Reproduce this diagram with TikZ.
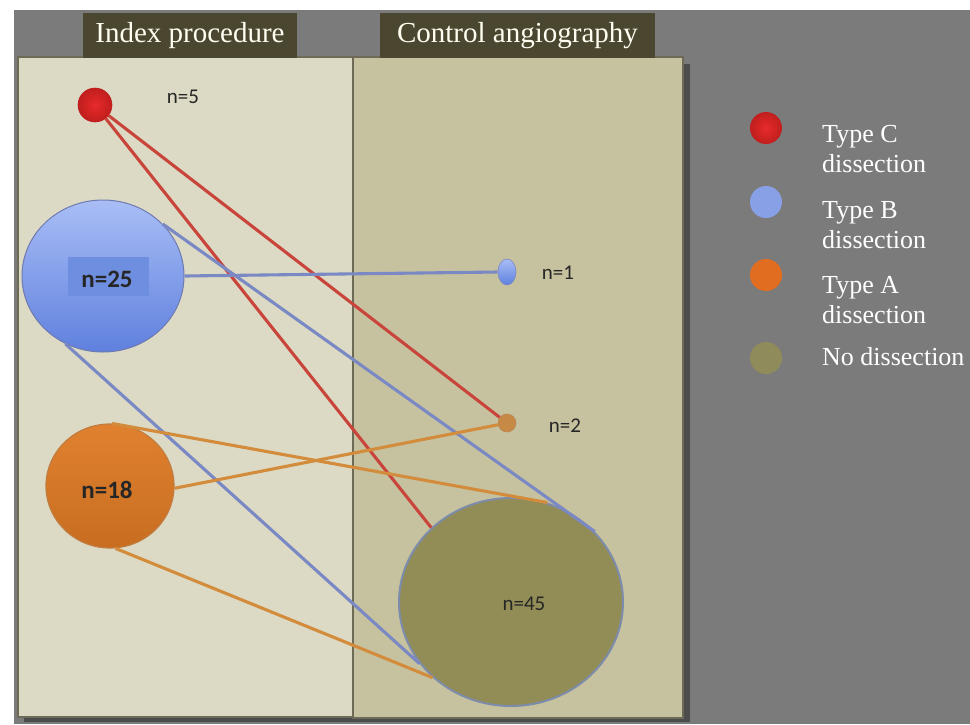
\documentclass[tikz,border=0pt]{standalone}
\usepackage{fontspec}
\setmainfont{Liberation Serif}
\newfontfamily\labfont{Carlito}
\usetikzlibrary{shapes.geometric}
\definecolor{bggray}{HTML}{7B7B7B}
\definecolor{shadowc}{HTML}{4C4C4C}
\definecolor{leftp}{HTML}{DCDAC5}
\definecolor{rightp}{HTML}{C6C29F}
\definecolor{panelb}{HTML}{6D6B55}
\definecolor{hdrc}{HTML}{4A4630}
\definecolor{redl}{HTML}{C9453C}
\definecolor{bluel}{HTML}{7A88C4}
\definecolor{orangel}{HTML}{D38B3C}
\definecolor{redin}{HTML}{E82A2A}
\definecolor{redout}{HTML}{C01E1E}
\definecolor{bluetop}{HTML}{A9BEF6}
\definecolor{bluebot}{HTML}{5F80DE}
\definecolor{orangec}{HTML}{DE7A24}
\definecolor{olivec}{HTML}{928C57}
\definecolor{oliveb}{HTML}{7D8CAA}
\definecolor{lblbox}{HTML}{6E8EDF}
\begin{document}
\begin{tikzpicture}[x=1pt,y=-1pt,
  hdr/.style={fill=hdrc, text=white!94!yellow, inner sep=0pt, font=\fontsize{29}{32}\selectfont},
  dot/.style={ellipse, inner sep=0pt},
  conn/.style={line width=3.1pt},
  nlab/.style={font=\labfont\fontsize{21}{24}\selectfont, text=black!85, inner sep=0pt},
  blab/.style={font=\labfont\bfseries\fontsize{25}{28}\selectfont, text=black!85, inner sep=0pt},
  legtext/.style={anchor=west, align=left, text=white!95, inner sep=0pt, font=\fontsize{26}{30}\selectfont},
  legdot/.style={circle, minimum size=32pt, inner sep=0pt}
]
\useasboundingbox (0,0) rectangle (970,724);
\fill[white] (0,0) rectangle (970,724);
\fill[bggray] (14,10) rectangle (970,724);
% panel shadow
\fill[shadowc] (24,64) rectangle (690,722);
% panels
\fill[leftp] (18,57) rectangle (353,717);
\fill[rightp] (353,57) rectangle (683,718);
\draw[panelb, line width=1.4pt] (18,57) rectangle (353,717);
\draw[panelb, line width=1.4pt] (353,57) rectangle (683,718);
% headers
\node[hdr, minimum width=214pt, minimum height=45pt] (h1) at (190,35.5) {Index procedure};
\node[hdr, minimum width=275pt, minimum height=45pt] (h2) at (517.5,35.5) {Control angiography};
% circles
\node[dot, minimum width=34pt, minimum height=34pt, inner color=redin, outer color=redout, draw=redout, line width=0.6pt] (C) at (95,105) {};
\node[dot, minimum width=162pt, minimum height=152pt, top color=bluetop, bottom color=bluebot, draw=bluel!90!black, line width=1pt] (B) at (103,276) {};
\node[dot, minimum width=128pt, minimum height=124pt, top color=orangec!95!white, bottom color=orangec!90!black, draw=orangec!70!gray, line width=1.2pt] (A) at (110,486) {};
\node[dot, minimum width=18pt, minimum height=26pt, top color=bluetop, bottom color=bluebot, draw=bluel, line width=0.6pt] (n1) at (507,272) {};
\node[dot, minimum width=18pt, minimum height=18pt, fill=orangel!85!gray, draw=orangel!70!gray, line width=0.6pt] (n2) at (507,423) {};
\node[dot, minimum width=224pt, minimum height=208pt, fill=olivec, draw=oliveb, line width=2pt] (O) at (511,602) {};
% connectors
\draw[conn, redl] (C) -- (n2);
\draw[conn, redl] (C) -- (O.137);
\draw[conn, bluel] (B.east) -- (n1.west);
\draw[conn, bluel] (B.41) -- (O.40);
\draw[conn, bluel] (B.241) -- (O.214);
\draw[conn, orangel] (A.88) -- (O.70);
\draw[conn, orangel] (A.358) -- (n2);
\draw[conn, orangel] (A.275) -- (O.224);
% labels
\node[fill=lblbox, minimum width=81pt, minimum height=39pt, inner sep=0pt] (lBbox) at (108.5,276.5) {};
\node[blab] (lB) at (107,279) {n=25};
\node[blab] (lA) at (107,490) {n=18};
\node[nlab] (lC) at (183,97) {n=5};
\node[nlab] (l1) at (558,273) {n=1};
\node[nlab] (l2) at (565,426) {n=2};
\node[nlab] (l45) at (524,604) {n=45};
% legend
\node[legdot, inner color=redin, outer color=redout] (LC) at (766,128) {};
\node[legdot, fill=bluebot!75!white] (LB) at (766,202) {};
\node[legdot, fill=orangec!90!red] (LA) at (766,275) {};
\node[legdot, fill=olivec!90!gray] (LN) at (766,358) {};
\node[legtext] (tC) at (822,149.5) {Type C\\dissection};
\node[legtext] (tB) at (822,225) {Type B\\dissection};
\node[legtext] (tA) at (822,300) {Type A\\dissection};
\node[legtext] (tN) at (822,357) {No dissection};
\end{tikzpicture}
\end{document}
